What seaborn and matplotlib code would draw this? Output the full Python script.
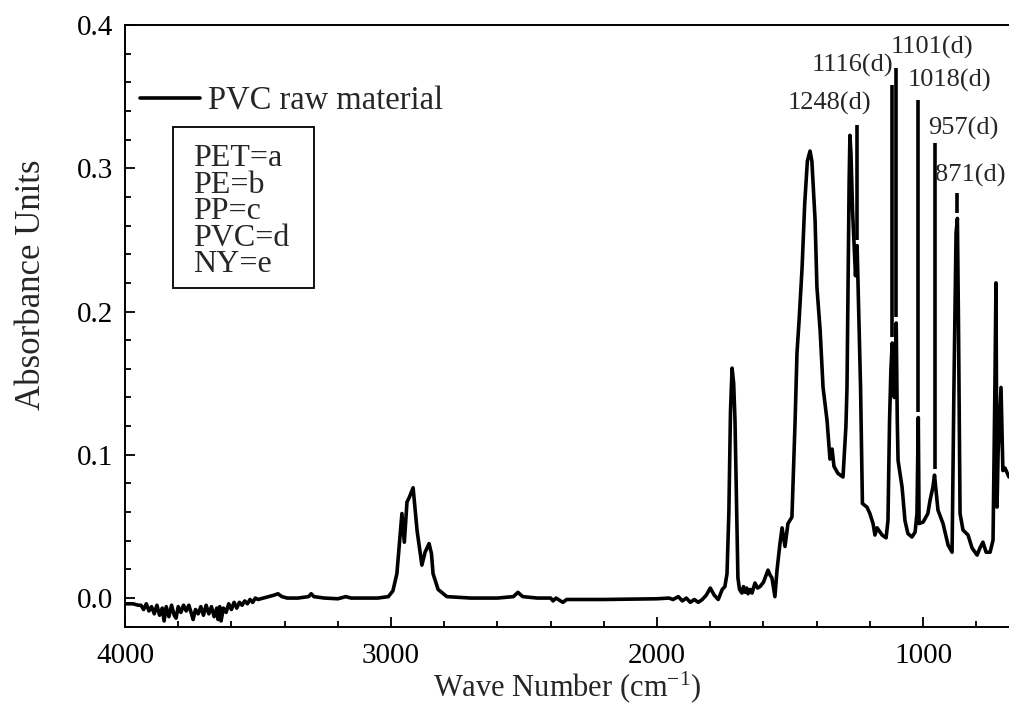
import numpy as np
import pandas as pd
import seaborn as sns
import matplotlib.pyplot as plt
from matplotlib.patches import Rectangle
from matplotlib.ticker import MultipleLocator

# --- spectrum (wavenumber cm-1, absorbance) ---
# baseline / O-H region
wn_a = [4000, 3970, 3950, 3940, 3930, 3920, 3910, 3900, 3890, 3880, 3870, 3860, 3853, 3845,
        3835, 3825, 3815, 3808, 3800, 3790, 3780, 3770, 3760, 3750, 3744, 3735, 3725, 3715,
        3705, 3695, 3685, 3675, 3665, 3655, 3650, 3644, 3639, 3630, 3620, 3610, 3600, 3590,
        3580, 3570, 3560, 3550, 3540, 3530, 3520, 3510, 3500, 3480, 3460, 3440, 3425, 3410,
        3390, 3350, 3310, 3300, 3290, 3250, 3200, 3170, 3150, 3050, 3010]
abs_a = [-0.004, -0.004, -0.005, -0.005, -0.008, -0.004, -0.009, -0.006, -0.011, -0.005,
         -0.012, -0.007, -0.016, -0.006, -0.013, -0.005, -0.012, -0.014, -0.006, -0.010,
         -0.005, -0.009, -0.005, -0.011, -0.015, -0.008, -0.011, -0.006, -0.012, -0.005,
         -0.011, -0.006, -0.013, -0.007, -0.015, -0.006, -0.016, -0.007, -0.010, -0.004,
         -0.008, -0.003, -0.007, -0.003, -0.005, -0.002, -0.004, -0.001, -0.003, 0.000,
         -0.001, 0.000, 0.001, 0.002, 0.003, 0.001, 0.000, 0.000, 0.001, 0.003, 0.001,
         0.000, -0.0005, 0.001, 0.000, 0.000, 0.001]

# C-H stretch and flat middle
wn_b = [2993, 2978, 2959, 2950, 2940, 2932, 2917, 2902, 2884, 2872, 2857, 2848, 2842, 2823,
        2790, 2700, 2600, 2540, 2523, 2505, 2450, 2400, 2391, 2380, 2354, 2340, 2200, 2000, 1955]
abs_b = [0.005, 0.017, 0.059, 0.039, 0.067, 0.070, 0.077, 0.047, 0.023, 0.032, 0.038, 0.031,
         0.017, 0.006, 0.001, 0.000, 0.000, 0.001, 0.004, 0.001, 0.000, 0.000, -0.002, 0.000,
         -0.003, -0.001, -0.001, -0.0005, 0.000]

# carbonyl region
wn_c = [1940, 1920, 1905, 1890, 1875, 1860, 1845, 1830, 1815, 1800, 1785, 1770, 1755, 1745,
        1737, 1730, 1724, 1718, 1712, 1707, 1700, 1696, 1690, 1681, 1675, 1669, 1663, 1658,
        1650, 1643, 1632, 1622, 1613, 1600, 1594, 1583, 1575, 1568, 1557, 1549, 1538, 1530,
        1519, 1508, 1493, 1481, 1474]
abs_c = [-0.001, 0.001, -0.002, 0.000, -0.003, -0.001, -0.003, -0.001, 0.002, 0.007, 0.002,
         -0.001, 0.006, 0.008, 0.017, 0.060, 0.130, 0.1605, 0.150, 0.124, 0.054, 0.014, 0.006,
         0.0035, 0.008, 0.004, 0.007, 0.003, 0.006, 0.0035, 0.0105, 0.007, 0.008, 0.011, 0.014,
         0.0195, 0.016, 0.014, 0.001, 0.0195, 0.038, 0.049, 0.036, 0.052, 0.0565, 0.124, 0.171]

# fingerprint region
wn_d = [1466, 1455, 1445, 1435, 1425, 1418, 1412, 1406, 1399, 1387, 1376, 1361, 1350, 1342,
        1335, 1320, 1301, 1290, 1286, 1282, 1278, 1275, 1271, 1265, 1259, 1254, 1248, 1242,
        1235, 1228, 1211, 1200, 1188, 1181, 1173, 1154, 1139, 1132, 1126, 1121, 1116, 1108,
        1101, 1097, 1094, 1079, 1068, 1057, 1042, 1030, 1023, 1018, 1015, 1000, 982, 974,
        963, 957, 950, 944, 925, 906, 891, 884, 876, 871, 867, 861, 850, 831, 816, 797, 786,
        775, 763, 748, 737, 730, 726, 722, 718, 707, 700, 692, 677]
abs_d = [0.194, 0.230, 0.275, 0.305, 0.312, 0.305, 0.285, 0.264, 0.217, 0.187, 0.147, 0.124,
         0.097, 0.104, 0.092, 0.087, 0.0845, 0.120, 0.147, 0.217, 0.290, 0.323, 0.310, 0.270,
         0.245, 0.225, 0.246, 0.200, 0.147, 0.066, 0.0635, 0.059, 0.052, 0.044, 0.049, 0.044,
         0.042, 0.054, 0.124, 0.159, 0.178, 0.140, 0.192, 0.124, 0.096, 0.0775, 0.054, 0.045,
         0.0426, 0.046, 0.059, 0.126, 0.052, 0.053, 0.059, 0.068, 0.0775, 0.0858, 0.073,
         0.0614, 0.052, 0.037, 0.032, 0.147, 0.255, 0.265, 0.194, 0.059, 0.0475, 0.044,
         0.035, 0.030, 0.035, 0.039, 0.032, 0.032, 0.0405, 0.147, 0.220, 0.0635, 0.101,
         0.147, 0.089, 0.0907, 0.0845]

# peak annotations
peak_wn = [1248, 1116, 1101, 1018, 957, 871]
peak_top = [0.330, 0.358, 0.370, 0.3475, 0.3175, 0.283]
peak_text = ["1248(d)", "1116(d)", "1101(d)", "1018(d)", "957(d)", "871(d)"]
text_x = [1350, 1267, 967, 899, 850, 822]
text_y = [0.3454, 0.372, 0.384, 0.3615, 0.328, 0.295]

key_lines = ["PET=a", "PE=b", "PP=c", "PVC=d", "NY=e"]

df = pd.DataFrame({"wn": wn_a + wn_b + wn_c + wn_d,
                   "absorb": abs_a + abs_b + abs_c + abs_d})

sns.set_theme(style="ticks")
plt.rcParams["font.family"] = ["Liberation Serif", "DejaVu Serif"]
plt.rcParams["mathtext.fontset"] = "custom"
plt.rcParams["mathtext.rm"] = "Liberation Serif"
plt.rcParams["mathtext.it"] = "Liberation Serif:italic"

fig = plt.figure(figsize=(10.09, 7.06), dpi=100)
ax = fig.add_axes([125 / 1009, 1 - 627 / 706, 884 / 1009, 602 / 706])

LW = 2.6
sns.lineplot(data=df, x="wn", y="absorb", color="black", lw=LW, estimator=None,
             sort=False, label="PVC raw material", ax=ax)

# vertical marker lines from just above the curve up to the label
srt = df.sort_values("wn")
for wn, top, txt, tx, ty in zip(peak_wn, peak_top, peak_text, text_x, text_y):
    bottom = np.interp(wn, srt["wn"], srt["absorb"]) + 0.004
    ax.vlines(wn, bottom, top, color="black", lw=LW)
    ax.text(tx, ty, txt, fontsize=19, ha="center", va="center")

ax.set_xlim(4000, 677)
ax.set_ylim(-0.0202, 0.4)
ax.xaxis.set_major_locator(MultipleLocator(1000))
ax.xaxis.set_minor_locator(MultipleLocator(200))
ax.yaxis.set_major_locator(MultipleLocator(0.1))
ax.yaxis.set_minor_locator(MultipleLocator(0.02))
ax.yaxis.set_major_formatter(plt.FormatStrFormatter("%.1f"))
ax.tick_params(which="both", direction="in", top=False, right=False, width=1.3,
               labelsize=21, colors="black")
ax.tick_params(which="major", length=7)
ax.tick_params(which="minor", length=4.5)
ax.tick_params(axis="y", pad=8.5)
ax.tick_params(axis="x", pad=11.5)
for s in ["left", "bottom", "top"]:
    ax.spines[s].set_linewidth(1.4)
    ax.spines[s].set_color("black")
ax.spines["right"].set_visible(False)

ax.set_xlabel("Wave Number (cm$^{\\mathrm{-1}}$)", fontsize=22, labelpad=0)
ax.set_ylabel("Absorbance Units", fontsize=25)
ax.yaxis.set_label_coords(-0.087, 0.568)

ax.legend(loc="upper left", bbox_to_anchor=(0.017, 0.899), frameon=False,
          fontsize=23.5, handlelength=1.84, handletextpad=0.25,
          borderpad=0, borderaxespad=0)

# key box drawn as a plain rectangle so the padding matches
ax.add_patch(Rectangle((0.0543, 0.5631), 0.1595, 0.2674, transform=ax.transAxes,
                       fill=False, ec="black", lw=1.3))
ax.text(0.077, 0.6894, "\n".join(key_lines), transform=ax.transAxes, fontsize=23,
        ha="left", va="center", linespacing=0.886)

fig.savefig("out.png", dpi=100)
